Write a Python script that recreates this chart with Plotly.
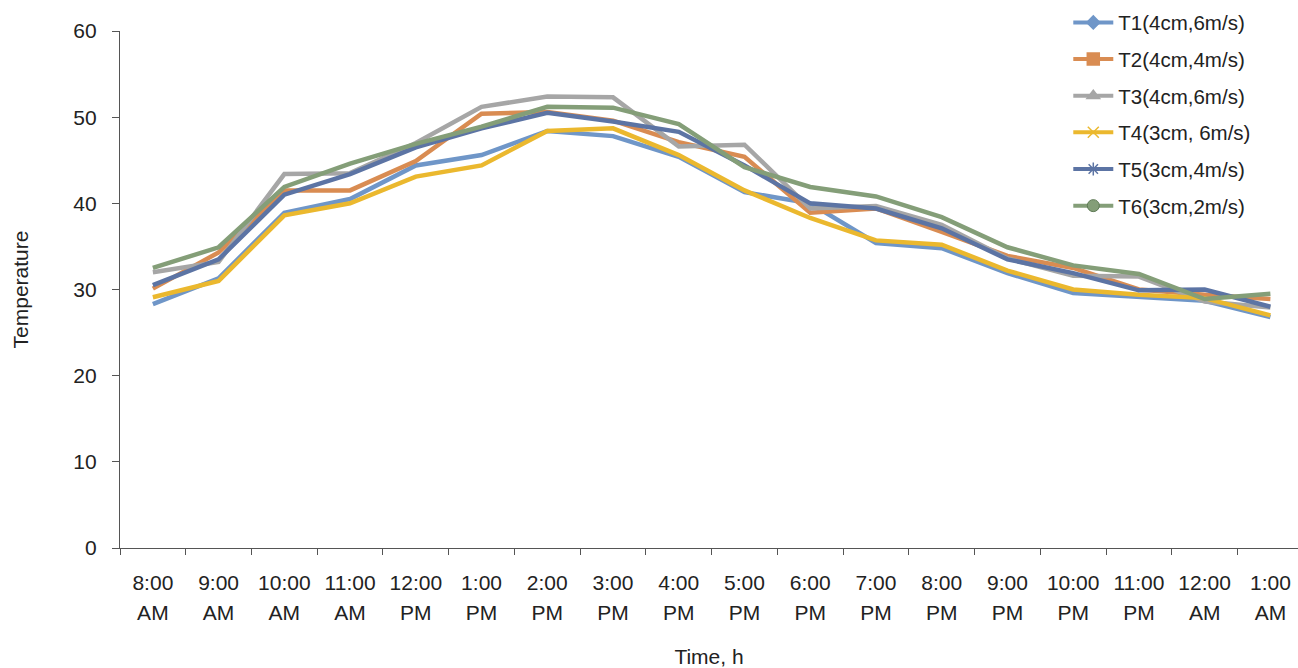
import plotly.graph_objects as go

times = ["8:00", "9:00", "10:00", "11:00", "12:00", "1:00", "2:00", "3:00", "4:00", "5:00",
         "6:00", "7:00", "8:00", "9:00", "10:00", "11:00", "12:00", "1:00"]
ampm = ["AM", "AM", "AM", "AM", "PM", "PM", "PM", "PM", "PM", "PM",
        "PM", "PM", "PM", "PM", "PM", "PM", "AM", "AM"]
categories = [f"{t} {p}" for t, p in zip(times, ampm)]
positions = list(range(len(categories)))

t1 = [28.3, 31.3, 38.9, 40.5, 44.4, 45.6, 48.4, 47.8, 45.4, 41.3, 40.0, 35.4, 34.8, 31.9, 29.6, 29.2, 28.7, 26.8]
t2 = [30.1, 34.3, 41.5, 41.5, 44.9, 50.4, 50.6, 49.6, 47.1, 45.4, 38.9, 39.4, 36.7, 33.9, 32.5, 30.0, 29.4, 28.9]
t3 = [32.0, 33.2, 43.4, 43.5, 47.0, 51.2, 52.4, 52.3, 46.6, 46.8, 39.4, 39.7, 37.5, 33.6, 31.6, 31.5, 28.6, 27.9]
t4 = [29.1, 31.0, 38.6, 40.0, 43.1, 44.4, 48.4, 48.7, 45.6, 41.5, 38.3, 35.7, 35.2, 32.2, 30.0, 29.4, 29.0, 27.0]
t5 = [30.5, 33.5, 41.0, 43.4, 46.5, 48.7, 50.5, 49.5, 48.3, 44.4, 40.0, 39.4, 37.1, 33.5, 31.9, 29.9, 30.0, 28.0]
t6 = [32.5, 34.9, 41.9, 44.6, 46.9, 48.9, 51.2, 51.1, 49.2, 44.2, 41.9, 40.8, 38.4, 34.9, 32.8, 31.8, 28.9, 29.5]

names = ["T1(4cm,6m/s)", "T2(4cm,4m/s)", "T3(4cm,6m/s)", "T4(3cm, 6m/s)", "T5(3cm,4m/s)", "T6(3cm,2m/s)"]
series = [t1, t2, t3, t4, t5, t6]
colors = ["#6F96C8", "#D98C52", "#A6A6A6", "#EBB82E", "#5C74A4", "#849E78"]
symbols = ["diamond", "square", "triangle-up", "x-thin-open", "asterisk-open", "circle"]
msizes = [10, 12, 11, 11, 11, 12]

fig = go.Figure()
for name, ys, c in zip(names, series, colors):
    fig.add_trace(go.Scatter(x=categories, y=ys, mode="lines", name=name,
                             line=dict(color=c, width=4.5), showlegend=False))

# invisible helper trace so the second (AM/PM label) axis is drawn
fig.add_trace(go.Scatter(x=positions, y=t1, xaxis="x2", mode="lines", opacity=0,
                         hoverinfo="skip", showlegend=False))

# legend entries (with the marker symbols shown in the legend)
for i, (name, c, s, ms) in enumerate(zip(names, colors, symbols, msizes)):
    mline = dict(color=c, width=1.5)
    if s == "circle":
        mline = dict(color="#5E7A55", width=1)
    fig.add_trace(go.Scatter(x=[None], y=[None], mode="lines+markers", name=name,
                             line=dict(color=c, width=4),
                             marker=dict(symbol=s, size=ms, color=c, line=mline),
                             legendgroup=f"g{i}", showlegend=True))

font = "Liberation Sans, Arial, Helvetica, sans-serif"
FS = 21
fig.update_layout(
    width=1298, height=668,
    margin=dict(l=120, r=0, t=31, b=120),
    paper_bgcolor="white", plot_bgcolor="white",
    font=dict(family=font, size=FS, color="#222222"),
    legend=dict(x=0.805, y=1.055, xanchor="left", yanchor="top",
                tracegroupgap=7, font=dict(size=20.5, color="#222222"),
                bgcolor="rgba(0,0,0,0)", itemwidth=40),
    xaxis=dict(type="category", range=[-0.5, 17.42], showgrid=False, zeroline=False,
               showline=True, linecolor="#555555", linewidth=1.2,
               tickmode="array", tickvals=categories, ticktext=times,
               ticks="outside", tickson="boundaries", ticklen=6, tickcolor="#555555",
               ticklabelstandoff=16, tickfont=dict(size=FS)),
    xaxis2=dict(overlaying="x", anchor="y", side="bottom", type="linear",
                range=[-0.5, 17.42], showgrid=False, zeroline=False, showline=False,
                tickmode="array", tickvals=positions, ticktext=ampm,
                ticks="", ticklabelstandoff=50, tickfont=dict(size=FS),
                title=dict(text="Time, h", font=dict(size=FS), standoff=28)),
    yaxis=dict(range=[0, 60], dtick=10, showgrid=False, zeroline=False,
               showline=True, linecolor="#555555", linewidth=1.2,
               ticks="outside", ticklen=7, tickcolor="#555555", ticklabelstandoff=11,
               tickfont=dict(size=FS), title=dict(text="Temperature", font=dict(size=FS), standoff=38)),
)

fig.write_html("out.html")
